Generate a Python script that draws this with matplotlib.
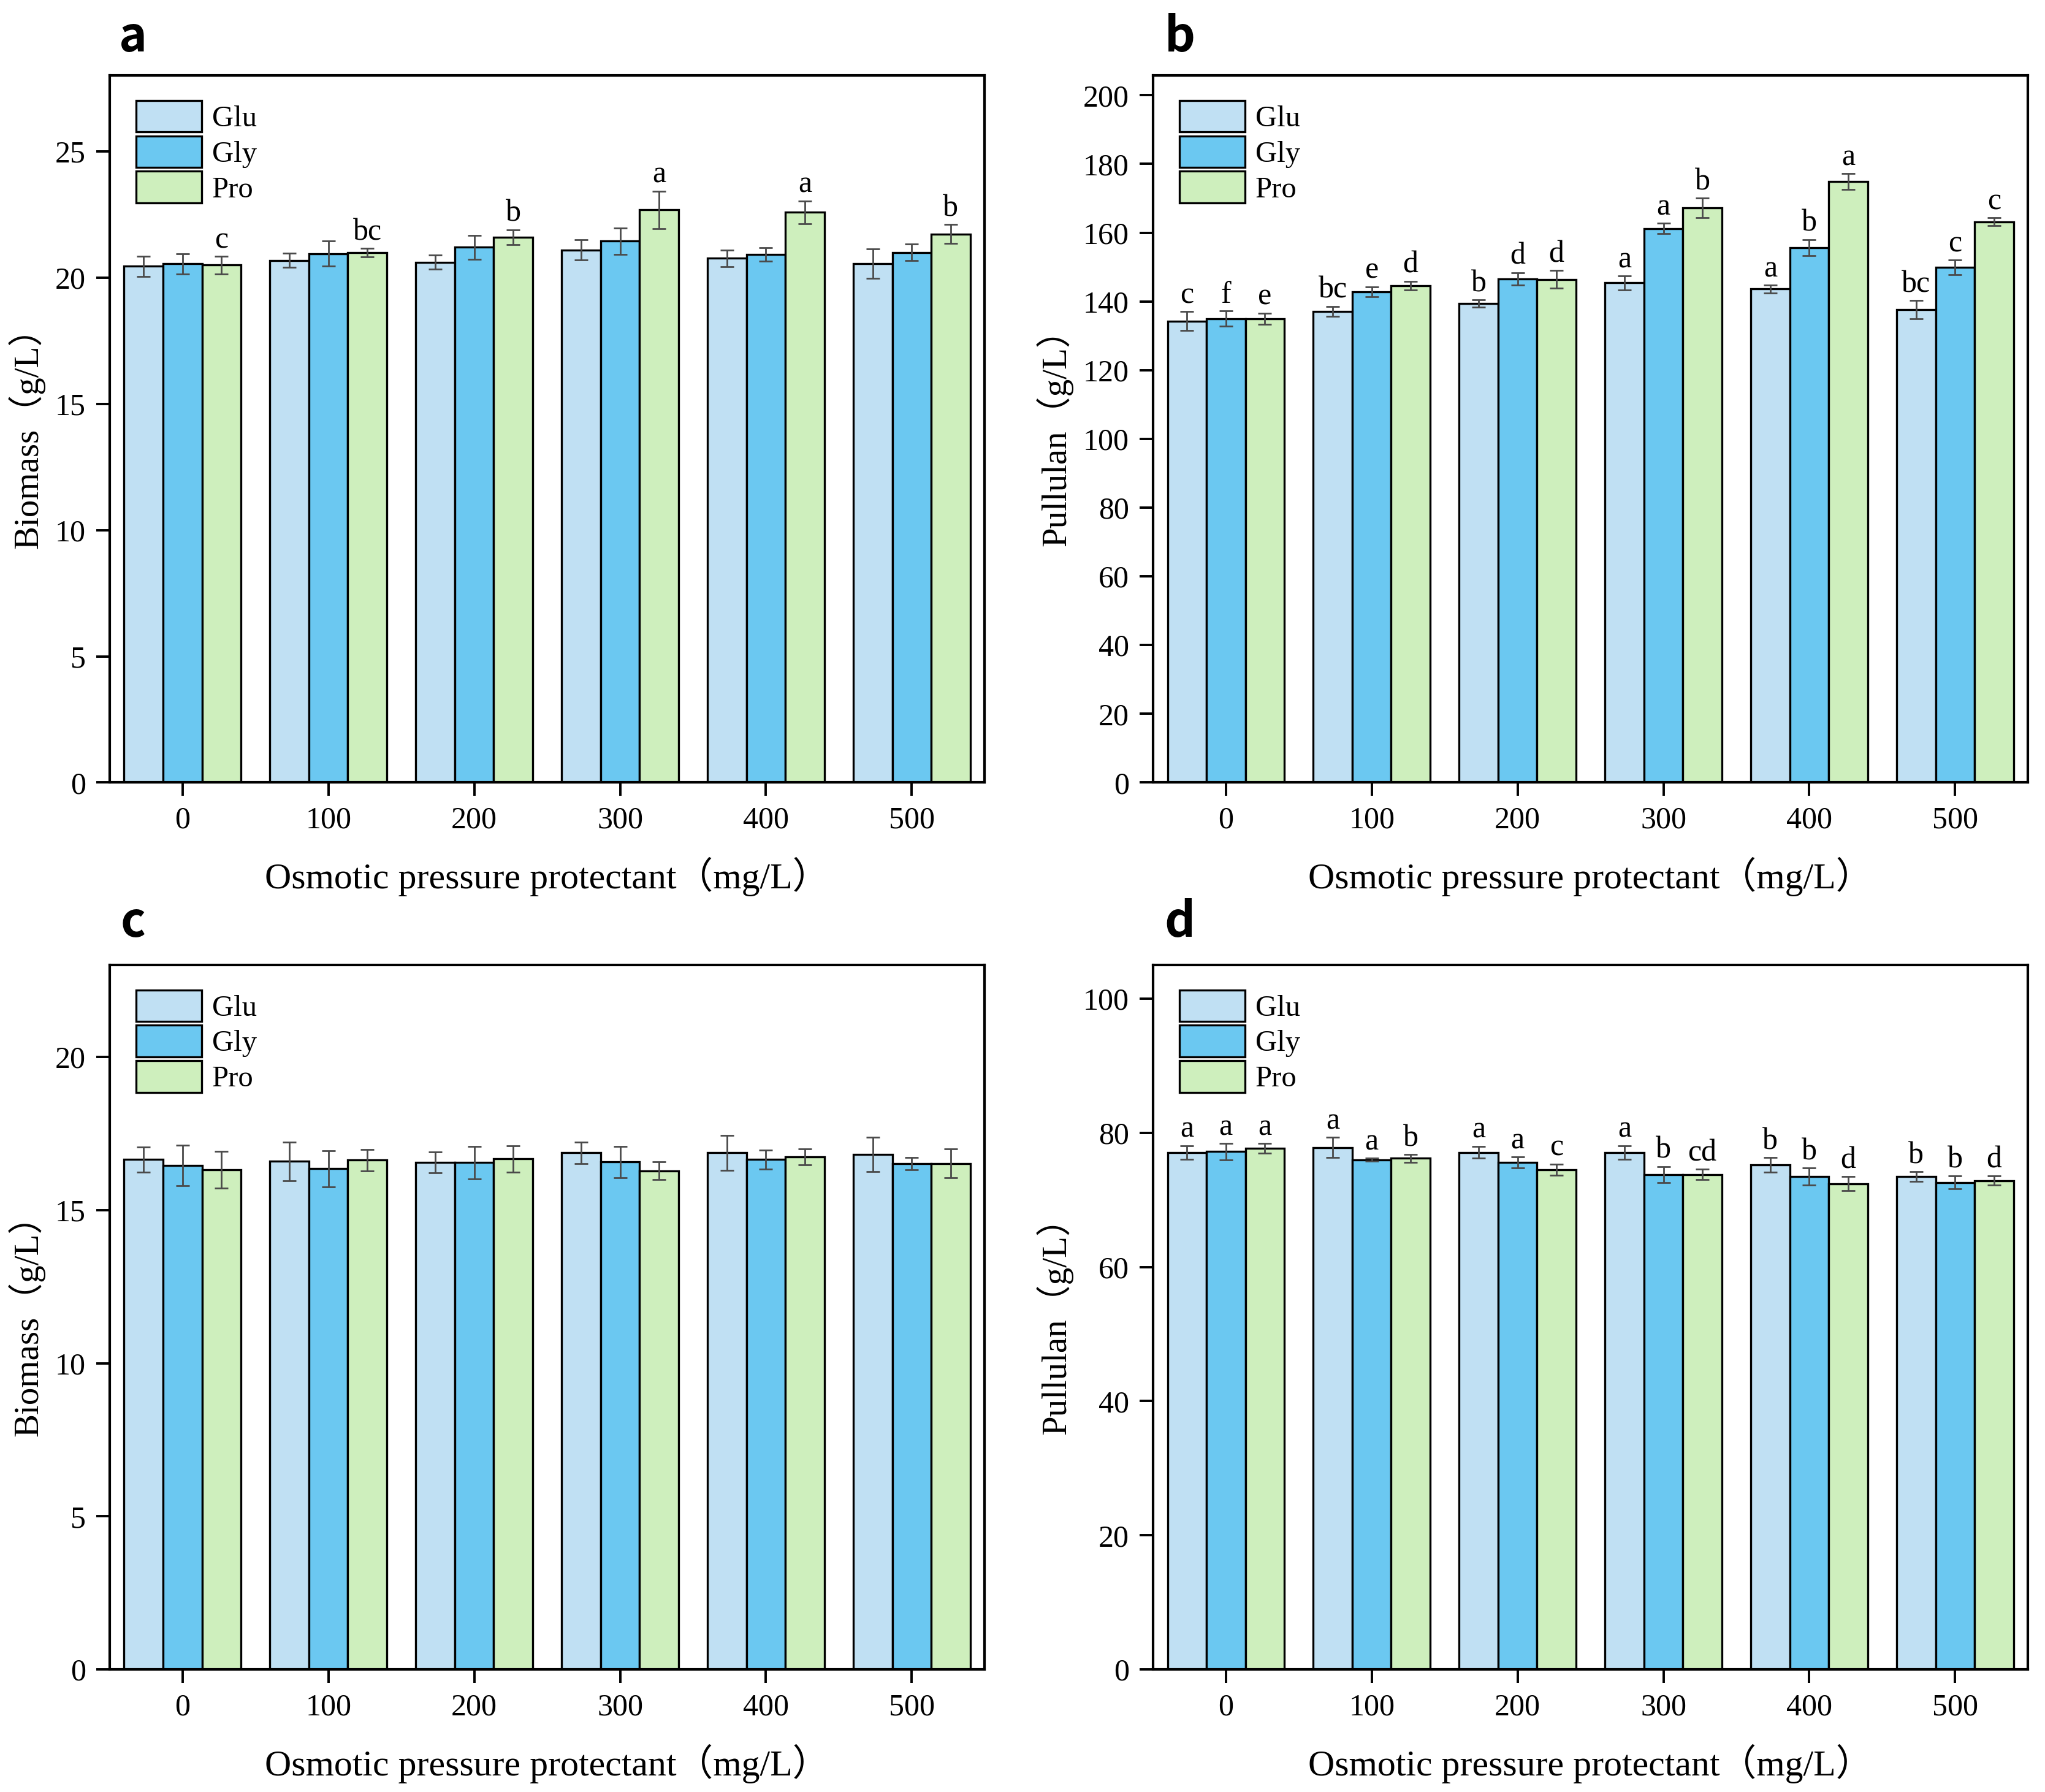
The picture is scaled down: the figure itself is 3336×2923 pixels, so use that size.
import numpy as np
import matplotlib.pyplot as plt

plt.rcParams['font.family'] = ['Liberation Serif', 'Noto Sans CJK SC']

doses = ['0', '100', '200', '300', '400', '500']
series = ['Glu', 'Gly', 'Pro']
colors = ['#C0E0F3', '#6BC8F1', '#CEEFBD']

# (a) biomass, first set
a_glu = [20.45, 20.68, 20.61, 21.09, 20.77, 20.55]
a_gly = [20.55, 20.95, 21.20, 21.45, 20.91, 21.00]
a_pro = [20.50, 20.98, 21.60, 22.68, 22.59, 21.73]
a_glu_err = [0.40, 0.28, 0.28, 0.40, 0.33, 0.59]
a_gly_err = [0.40, 0.50, 0.48, 0.52, 0.27, 0.33]
a_pro_err = [0.35, 0.17, 0.30, 0.75, 0.45, 0.37]
a_pro_sig = ['c', 'bc', 'b', 'a', 'a', 'b']

# (b) pullulan, first set
b_glu = [134.3, 137.1, 139.4, 145.4, 143.6, 137.6]
b_gly = [135.0, 142.8, 146.6, 161.2, 155.7, 149.9]
b_pro = [135.0, 144.6, 146.4, 167.2, 174.9, 163.2]
b_glu_err = [2.8, 1.5, 1.0, 2.0, 1.1, 2.7]
b_gly_err = [2.2, 1.5, 1.8, 1.5, 2.3, 2.1]
b_pro_err = [1.6, 1.3, 2.6, 2.9, 2.3, 1.2]
b_glu_sig = ['c', 'bc', 'b', 'a', 'a', 'bc']
b_gly_sig = ['f', 'e', 'd', 'a', 'b', 'c']
b_pro_sig = ['e', 'd', 'd', 'b', 'a', 'c']

# (c) biomass, second set
c_glu = [16.65, 16.59, 16.55, 16.87, 16.87, 16.82]
c_gly = [16.46, 16.35, 16.55, 16.57, 16.65, 16.52]
c_pro = [16.31, 16.63, 16.67, 16.28, 16.74, 16.52]
c_glu_err = [0.42, 0.64, 0.34, 0.35, 0.57, 0.57]
c_gly_err = [0.66, 0.59, 0.54, 0.52, 0.31, 0.20]
c_pro_err = [0.60, 0.35, 0.44, 0.29, 0.26, 0.47]

# (d) pullulan, second set
d_glu = [77.1, 77.8, 77.1, 77.1, 75.2, 73.5]
d_gly = [77.2, 76.0, 75.6, 73.8, 73.5, 72.6]
d_pro = [77.7, 76.2, 74.5, 73.8, 72.4, 72.9]
d_glu_err = [1.0, 1.5, 0.9, 1.0, 1.1, 0.7]
d_gly_err = [1.2, 0.2, 0.8, 1.2, 1.25, 0.95]
d_pro_err = [0.7, 0.6, 0.85, 0.8, 1.05, 0.65]
d_glu_sig = ['a', 'a', 'a', 'a', 'b', 'b']
d_gly_sig = ['a', 'a', 'a', 'b', 'b', 'b']
d_pro_sig = ['a', 'b', 'c', 'cd', 'd', 'd']

panels = [
    ('a', [a_glu, a_gly, a_pro], [a_glu_err, a_gly_err, a_pro_err],
     [None, None, a_pro_sig], 'Biomass（g/L）', 28, 5),
    ('b', [b_glu, b_gly, b_pro], [b_glu_err, b_gly_err, b_pro_err],
     [b_glu_sig, b_gly_sig, b_pro_sig], 'Pullulan（g/L）', 205.7, 20),
    ('c', [c_glu, c_gly, c_pro], [c_glu_err, c_gly_err, c_pro_err],
     [None, None, None], 'Biomass（g/L）', 23, 5),
    ('d', [d_glu, d_gly, d_pro], [d_glu_err, d_gly_err, d_pro_err],
     [d_glu_sig, d_gly_sig, d_pro_sig], 'Pullulan（g/L）', 105, 20),
]

rects = [
    [0.0536, 0.5633, 0.4279, 0.3945],
    [0.5638, 0.5633, 0.4279, 0.3945],
    [0.0536, 0.0684, 0.4279, 0.3930],
    [0.5638, 0.0684, 0.4279, 0.3930],
]
letter_pos = [(0.065, 0.979), (0.577, 0.979), (0.065, 0.485), (0.577, 0.485)]

fig = plt.figure(figsize=(16.68, 14.615), dpi=200)

x = np.arange(len(doses))
w = 0.267

for (tag, vals, errs, sigs, ylabel, ymax, ystep), rect, lp in zip(panels, rects, letter_pos):
    ax = fig.add_axes(rect)
    for i in range(3):
        xs = x + (i - 1) * w
        ax.bar(xs, vals[i], width=w, color=colors[i], edgecolor='black',
               linewidth=1.2, label=series[i], zorder=2)
        ax.errorbar(xs, vals[i], yerr=errs[i], fmt='none', ecolor='#4a4a4a',
                    elinewidth=1.0, capsize=4, capthick=1.0, zorder=3)
        if sigs[i] is not None:
            for xx, v, e, s in zip(xs, vals[i], errs[i], sigs[i]):
                ax.annotate(s, (xx, v + e), xytext=(0, 1), textcoords='offset points',
                            ha='center', va='bottom', fontsize=18)

    ax.set_xlim(-0.5, 5.5)
    ax.set_ylim(0, ymax)
    ax.set_xticks(x)
    ax.set_xticklabels(doses)
    ax.set_yticks(np.arange(0, ymax + 0.01, ystep))
    ax.tick_params(axis='both', labelsize=18, direction='out', length=8, width=1.4, pad=6)
    for sp in ax.spines.values():
        sp.set_linewidth(1.5)
    ax.set_ylabel(ylabel, fontsize=20.5, labelpad=6)
    ax.set_xlabel('Osmotic pressure protectant（mg/L）', fontsize=21.5, labelpad=13)

    ax.legend(loc='upper left', bbox_to_anchor=(0.03, 0.965), frameon=False,
              borderpad=0, borderaxespad=0, handlelength=2.2, handleheight=1.25,
              labelspacing=0.12, handletextpad=0.35, fontsize=17.5)

    fig.text(lp[0], lp[1], tag, fontsize=28, fontweight='bold',
             family=['Noto Sans CJK SC', 'DejaVu Sans'], ha='center', va='center')

fig.savefig('out.png', dpi=200)
